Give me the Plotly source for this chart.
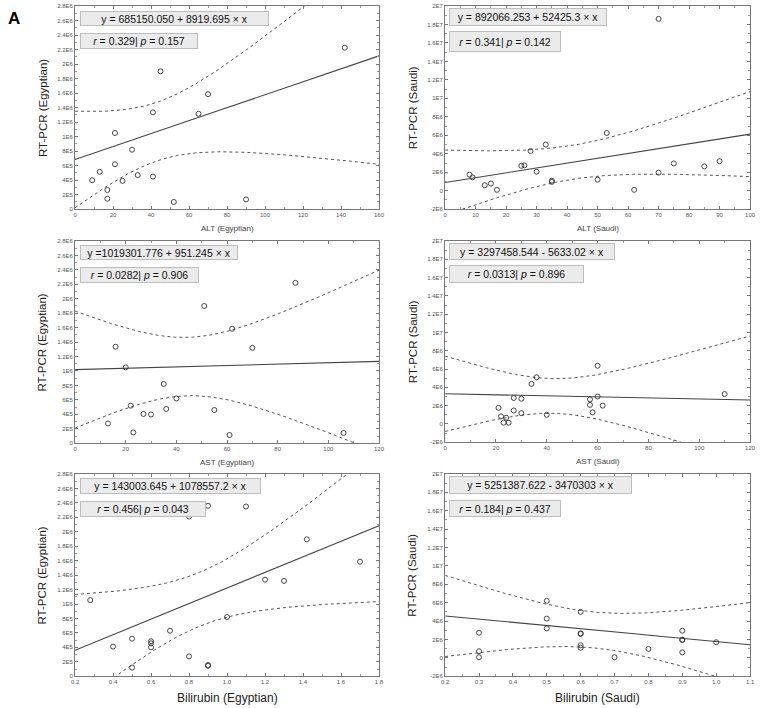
import numpy as np
import plotly.graph_objects as go

W, H = 761, 708

# ---------------- data ----------------
alt_egy_x = [9, 13, 17, 17, 21, 21, 25, 30, 33, 41, 41, 45, 52, 65, 70, 90, 142]
alt_egy_y = [4.0e5, 5.15e5, 2.65e5, 1.45e5, 1.05e6, 6.2e5, 3.9e5, 8.2e5, 4.7e5,
             1.335e6, 4.5e5, 1.9e6, 1.0e5, 1.315e6, 1.585e6, 1.35e5, 2.225e6]

alt_sau_x = [8, 9, 13, 15, 17, 25, 26, 28, 30, 33, 35, 35, 50, 53, 62, 70, 70, 75, 85, 90]
alt_sau_y = [1.75e6, 1.45e6, 0.6e6, 0.78e6, 0.1e6, 2.7e6, 2.75e6, 4.3e6, 2.06e6, 5.0e6,
             1.1e6, 0.96e6, 1.2e6, 6.25e6, 0.1e6, 18.6e6, 1.96e6, 2.96e6, 2.64e6, 3.2e6]

ast_egy_x = [13, 16, 20, 22, 23, 27, 30, 35, 36, 40, 51, 55, 61, 62, 70, 87, 106]
ast_egy_y = [2.74e5, 1.336e6, 1.05e6, 5.2e5, 1.5e5, 4.05e5, 3.98e5, 8.2e5, 4.75e5,
             6.2e5, 1.9e6, 4.6e5, 1.14e5, 1.585e6, 1.32e6, 2.22e6, 1.42e5]

ast_sau_x = [21, 22, 23, 24, 25, 27, 27, 30, 30, 34, 36, 40, 57, 57, 58, 60, 60, 62, 110]
ast_sau_y = [1.76e6, 0.83e6, 0.14e6, 0.68e6, 0.14e6, 2.84e6, 1.47e6, 2.76e6, 1.18e6,
             4.38e6, 5.1e6, 1.0e6, 2.69e6, 2.08e6, 1.26e6, 6.36e6, 3.0e6, 2.0e6, 3.27e6]

bil_egy_x = [0.28, 0.4, 0.5, 0.5, 0.6, 0.6, 0.6, 0.7, 0.8, 0.8, 0.9, 0.9, 0.9,
             1.0, 1.1, 1.2, 1.3, 1.42, 1.7]
bil_egy_y = [1.054e6, 4.1e5, 5.2e5, 1.2e5, 4.85e5, 4.55e5, 4.0e5, 6.3e5, 2.75e5, 2.21e6,
             1.55e5, 1.45e5, 2.36e6, 8.2e5, 2.35e6, 1.336e6, 1.32e6, 1.895e6, 1.586e6]

bil_sau_x = [0.3, 0.3, 0.3, 0.5, 0.5, 0.5, 0.6, 0.6, 0.6, 0.6, 0.6, 0.7, 0.8,
             0.9, 0.9, 0.9, 0.9, 1.0]
bil_sau_y = [2.73e6, 0.72e6, 0.07e6, 6.2e6, 4.27e6, 3.2e6, 5.0e6, 2.66e6, 2.6e6, 1.37e6,
             1.1e6, 0.07e6, 0.97e6, 2.95e6, 1.97e6, 1.95e6, 0.6e6, 1.7e6]

# regression coefficients (as printed)
coef = {
    "alt_egy": (685150.050, 8919.695),
    "alt_sau": (892066.253, 52425.3),
    "ast_egy": (1019301.776, 951.245),
    "ast_sau": (3297458.544, -5633.02),
    "bil_egy": (143003.645, 1078557.2),
    "bil_sau": (5251387.622, -3470303),
}
# residual standard deviation of each fit (estimated from the drawn 95% bands)
resid_sd = {
    "alt_egy": 7.8e5, "alt_sau": 3.9e6,
    "ast_egy": 7.8e5, "ast_sau": 3.9e6,
    "bil_egy": 7.7e5, "bil_sau": 3.9e6,
}
eq_text = {
    "alt_egy": "y = 685150.050 + 8919.695 × x",
    "alt_sau": "y = 892066.253 + 52425.3 × x",
    "ast_egy": "y =1019301.776 + 951.245 × x",
    "ast_sau": "y = 3297458.544 - 5633.02 × x",
    "bil_egy": "y = 143003.645 + 1078557.2 × x",
    "bil_sau": "y = 5251387.622 - 3470303 × x",
}
stat_text = {
    "alt_egy": "<i>r</i> = 0.329| <i>p</i> = 0.157",
    "alt_sau": "<i>r</i> = 0.341| <i>p</i> = 0.142",
    "ast_egy": "<i>r</i> = 0.0282| <i>p</i> = 0.906",
    "ast_sau": "<i>r</i> = 0.0313| <i>p</i> = 0.896",
    "bil_egy": "<i>r</i> = 0.456| <i>p</i> = 0.043",
    "bil_sau": "<i>r</i> = 0.184| <i>p</i> = 0.437",
}

egy_ytick_vals = [0, 2e5, 4e5, 6e5, 8e5, 1e6, 1.2e6, 1.4e6, 1.6e6, 1.8e6, 2e6, 2.2e6, 2.4e6, 2.6e6, 2.8e6]
egy_ytick_text = ["0", "2E5", "4E5", "6E5", "8E5", "1E6", "1.2E6", "1.4E6", "1.6E6", "1.8E6",
                  "2E6", "2.2E6", "2.4E6", "2.6E6", "2.8E6"]
sau_ytick_vals = [-2e6, 0, 2e6, 4e6, 6e6, 8e6, 1e7, 1.2e7, 1.4e7, 1.6e7, 1.8e7, 2e7]
sau_ytick_text = ["-2E6", "0", "2E6", "4E6", "6E6", "8E6", "1E7", "1.2E7", "1.4E7", "1.6E7", "1.8E7", "2E7"]

x_titles = {
    "alt_egy": "ALT (Egyptian)", "alt_sau": "ALT (Saudi)",
    "ast_egy": "AST (Egyptian)", "ast_sau": "AST (Saudi)",
    "bil_egy": "Bilirubin (Egyptian)", "bil_sau": "Bilirubin (Saudi)",
}
y_titles = {"egy": "RT-PCR (Egyptian)", "sau": "RT-PCR (Saudi)"}

T95 = {14: 2.145, 15: 2.131, 16: 2.120, 17: 2.110, 18: 2.101, 19: 2.093, 20: 2.086}

# ---------------- layout (pixels) ----------------
panels = [
    # key, x, y, xrange, xdtick, xfmt, px-left, px-right, px-top, px-bottom, group
    ("alt_egy", alt_egy_x, alt_egy_y, [0, 160], 20, "", 72, 380, 3, 208, "egy"),
    ("alt_sau", alt_sau_x, alt_sau_y, [0, 100], 10, "", 447, 756, 3, 208, "sau"),
    ("ast_egy", ast_egy_x, ast_egy_y, [0, 120], 20, "", 72, 380, 240, 444, "egy"),
    ("ast_sau", ast_sau_x, ast_sau_y, [0, 120], 20, "", 447, 756, 240, 443, "sau"),
    ("bil_egy", bil_egy_x, bil_egy_y, [0.2, 1.8], 0.2, ".1f", 72, 380, 475, 679, "egy"),
    ("bil_sau", bil_sau_x, bil_sau_y, [0.2, 1.1], 0.1, ".1f", 447, 756, 475, 679, "sau"),
]
boxes = {  # eq box (l, r, t, b), stat box (l, r, t, b)
    "alt_egy": ((77, 266, 8, 23), (77, 195, 30, 46)),
    "alt_sau": ((451, 609, 5, 23), (451, 563, 28, 49)),
    "ast_egy": ((77, 235, 244, 259), (77, 196, 266, 282)),
    "ast_sau": ((451, 617, 242, 259), (451, 586, 264, 282)),
    "bil_egy": ((77, 258, 479, 495), (77, 203, 502, 518)),
    "bil_sau": ((451, 634, 477, 495), (451, 563, 501, 518)),
}

def px(xp):
    return xp / W

def py(yp):
    return 1 - yp / H

fig = go.Figure()
annotations = []
FONT = "Liberation Sans, Arial, sans-serif"

for i, (key, xs, ys, xr, xdt, xfmt, l, r, t, b, grp) in enumerate(panels, start=1):
    xa = "x" if i == 1 else f"x{i}"
    ya = "y" if i == 1 else f"y{i}"
    xs_a = np.array(xs, float)
    a, slope = coef[key]
    n = len(xs_a)
    xbar = xs_a.mean()
    sxx = np.sum((xs_a - xbar) ** 2)
    tval = T95.get(n - 2, 2.1)
    xg = np.linspace(xr[0], xr[1], 200)
    yfit = a + slope * xg
    half = tval * resid_sd[key] * np.sqrt(1.0 / n + (xg - xbar) ** 2 / sxx)

    for band in (yfit + half, yfit - half):
        fig.add_trace(go.Scatter(x=xg, y=band, mode="lines", xaxis=xa, yaxis=ya,
                                 line=dict(color="#555", width=1, dash="dot"),
                                 hoverinfo="skip", showlegend=False))
    fig.add_trace(go.Scatter(x=xg, y=yfit, mode="lines", xaxis=xa, yaxis=ya,
                             line=dict(color="#444", width=1.1),
                             hoverinfo="skip", showlegend=False))
    fig.add_trace(go.Scatter(x=xs, y=ys, mode="markers", xaxis=xa, yaxis=ya,
                             marker=dict(symbol="circle-open", size=5, color="#333",
                                         line=dict(width=0.9, color="#333")),
                             showlegend=False, cliponaxis=True))

    if grp == "egy":
        yr, tv, tt, ydt = [0, 2.8e6], egy_ytick_vals, egy_ytick_text, 1e5
    else:
        yr, tv, tt, ydt = [-2e6, 2e7], sau_ytick_vals, sau_ytick_text, 1e6

    axis_common = dict(showgrid=False, zeroline=False, showline=True, linecolor="#777",
                       linewidth=1, mirror="allticks", ticks="inside", ticklen=3,
                       tickcolor="#777", tickfont=dict(size=6, color="#555", family=FONT))
    fig.layout[("xaxis" if i == 1 else f"xaxis{i}")] = dict(
        domain=[px(l), px(r)], range=xr, anchor=ya, dtick=xdt, tick0=xr[0],
        tickformat=xfmt, minor=dict(ticks="inside", ticklen=2, tickcolor="#999",
                                    dtick=xdt / 2, tick0=xr[0]), **axis_common)
    fig.layout[("yaxis" if i == 1 else f"yaxis{i}")] = dict(
        domain=[py(b), py(t)], range=yr, anchor=xa, tickmode="array",
        tickvals=tv, ticktext=tt,
        minor=dict(ticks="inside", ticklen=2, tickcolor="#999", dtick=ydt, tick0=0),
        **axis_common)

    # equation boxes
    for (bl, br, bt, bb), txt in zip(boxes[key], (eq_text[key], stat_text[key])):
        annotations.append(dict(
            text=txt, xref="paper", yref="paper", x=px(bl), y=py(bt),
            xanchor="left", yanchor="top", showarrow=False, align="center",
            width=br - bl - 2, height=bb - bt - 2, borderpad=0,
            bgcolor="#ebebeb", bordercolor="#bdbdbd", borderwidth=1,
            font=dict(size=10.5, color="#111", family=FONT)))

    # axis titles
    bottom_row = key.startswith("bil")
    annotations.append(dict(
        text=x_titles[key], xref="paper", yref="paper", x=px((l + r) / 2),
        y=py(b + (22 if bottom_row else 19)), xanchor="center", yanchor="middle",
        showarrow=False,
        font=dict(size=12 if bottom_row else 8, color="#222" if bottom_row else "#444",
                  family=FONT)))
    annotations.append(dict(
        text=y_titles[grp], xref="paper", yref="paper",
        x=px(l - 33), y=py((t + b) / 2), xanchor="center", yanchor="middle",
        textangle=-90, showarrow=False,
        font=dict(size=11.5, color="#222", family=FONT)))

annotations.append(dict(text="<b>A</b>", xref="paper", yref="paper", x=px(2), y=py(4),
                        xanchor="left", yanchor="top", showarrow=False,
                        font=dict(size=17, color="#000", family=FONT)))

fig.update_layout(width=W, height=H, margin=dict(l=0, r=0, t=0, b=0),
                  paper_bgcolor="white", plot_bgcolor="white",
                  annotations=annotations, font=dict(family=FONT))

fig.write_html("out.html", config={"displayModeBar": False},
               post_script="document.body.style.margin='0px';document.body.style.overflow='hidden';")
